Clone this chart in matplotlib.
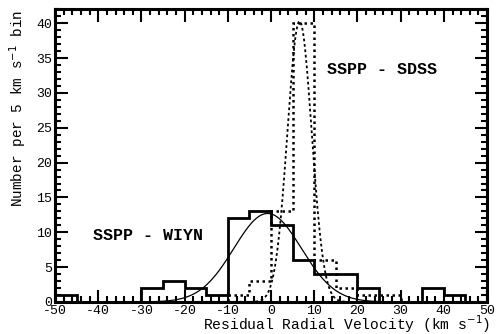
import numpy as np
import matplotlib
matplotlib.use("Agg")
import matplotlib.pyplot as plt
from matplotlib.ticker import MultipleLocator

# residual radial velocity histograms, 5 km/s bins from -50 to 50
bin_edges = np.arange(-50, 51, 5)
wiyn_counts = [1, 0, 0, 0, 2, 3, 2, 1, 12, 13, 11, 6, 4, 4, 2, 0, 0, 2, 1, 0]
sdss_counts = [0, 0, 0, 0, 0, 0, 0, 0, 1, 3, 13, 40, 6, 2, 1, 1, 0, 0, 0, 0]

# gaussian fits (amplitude, mean, sigma)
wiyn_fit = (12.7, -0.8, 7.8)
sdss_fit = (40.3, 6.6, 2.8)

plt.rcParams['font.family'] = ['Liberation Mono', 'DejaVu Sans Mono']
plt.rcParams['axes.unicode_minus'] = False

fig = plt.figure(figsize=(4.96, 3.34), dpi=100)
ax = fig.add_axes([0.111, 0.096, 0.871, 0.876])

ax.stairs(wiyn_counts, bin_edges, color='black', lw=2.0)
ax.stairs(sdss_counts, bin_edges, color='black', lw=1.8, linestyle=(0, (1.0, 1.4)))

xx = np.linspace(-50, 50, 801)
amp, mu, sig = wiyn_fit
ax.plot(xx, amp * np.exp(-(xx - mu) ** 2 / (2 * sig ** 2)), color='black', lw=0.9)
amp, mu, sig = sdss_fit
ax.plot(xx, amp * np.exp(-(xx - mu) ** 2 / (2 * sig ** 2)), color='black', lw=1.3,
        linestyle=(0, (1.5, 1.5)))

ax.text(12.9, 33.3, 'SSPP - SDSS', fontsize=12, fontweight='bold', va='center')
ax.text(-41.3, 9.6, 'SSPP - WIYN', fontsize=12, fontweight='bold', va='center')

ax.set_xlim(-50, 50)
ax.set_ylim(0, 42)
ax.xaxis.set_major_locator(MultipleLocator(10))
ax.xaxis.set_minor_locator(MultipleLocator(2))
ax.yaxis.set_major_locator(MultipleLocator(5))
ax.yaxis.set_minor_locator(MultipleLocator(1))
ax.tick_params(which='both', direction='in', top=True, right=True, width=1.5,
               labelsize=9.5, pad=2)
ax.tick_params(which='major', length=9)
ax.tick_params(which='minor', length=4.5)
for s in ax.spines.values():
    s.set_linewidth(2.2)

ax.set_xlabel('Residual Radial Velocity (km s$^{-1}$)', fontsize=10.5)
ax.xaxis.set_label_coords(1.007, -0.096)
ax.xaxis.label.set_horizontalalignment('right')
ax.xaxis.label.set_verticalalignment('baseline')
ax.set_ylabel('Number per 5 km s$^{-1}$ bin', fontsize=10.4)
ax.yaxis.set_label_coords(-0.086, 1.0)
ax.yaxis.label.set_verticalalignment('center')
ax.yaxis.label.set_horizontalalignment('right')

fig.savefig('out.png', dpi=100)
